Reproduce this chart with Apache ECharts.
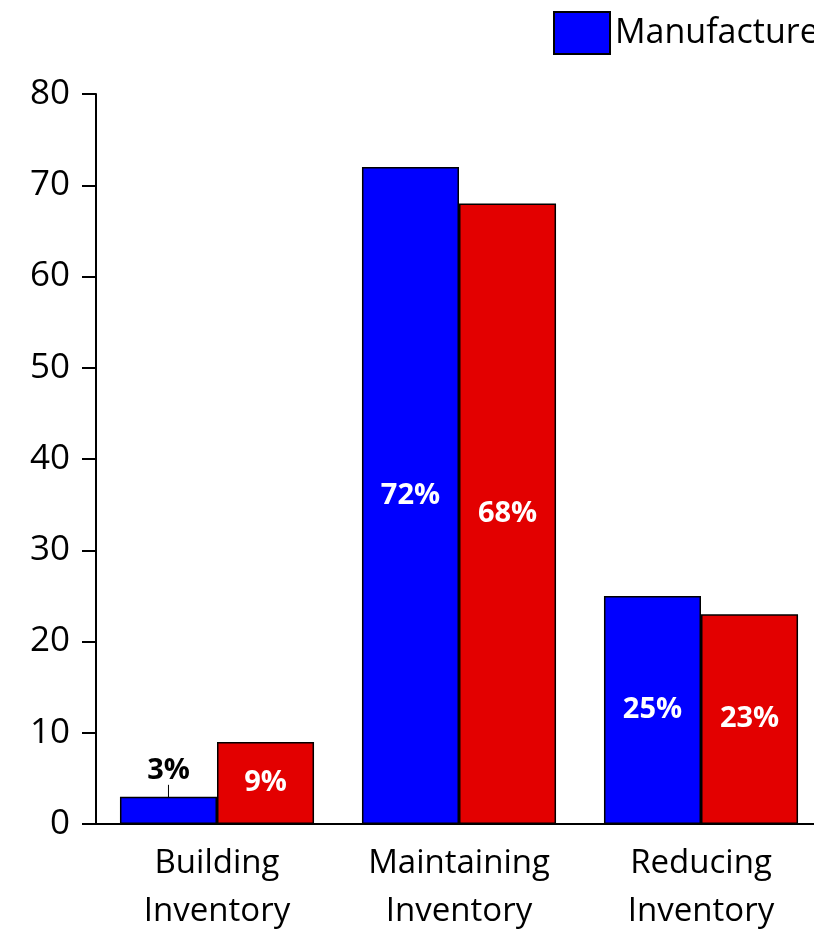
<!DOCTYPE html>
<html><head><meta charset="utf-8">
<script src="https://cdn.jsdelivr.net/npm/echarts@6/dist/echarts.min.js"></script>
<style>html,body{margin:0;padding:0;background:#fff}#c{width:814px;height:934px}</style>
</head><body><div id="c"></div>
<script>
const categories = ['Building\nInventory', 'Maintaining\nInventory', 'Reducing\nInventory'];
const seriesNames = ['Manufacturers', 'Retailers'];
const manufacturers = [3, 72, 25];
const retailers = [9, 68, 23];
const yTicks = {min: 0, max: 80, interval: 10};

const FONT = '"Open Sans", "Noto Sans", sans-serif';
const chart = echarts.init(document.getElementById('c'));
const labelStyle = {show: true, position: 'inside', color: '#fff', fontWeight: 'bold', fontSize: 29, fontFamily: FONT, formatter: p => p.value + '%'};
chart.setOption({
  animation: false,
  legend: {left: 548, top: 6, width: 2000, orient: 'horizontal', itemWidth: 56, itemHeight: 42, itemGap: 30,
    textStyle: {fontSize: 34, fontFamily: FONT, color: '#000'},
    icon: 'rect', data: seriesNames},
  grid: {left: 96, top: 94, width: 726, height: 730, outerBoundsMode: 'none', containLabel: false},
  xAxis: {type: 'category', data: categories,
    axisLine: {lineStyle: {color: '#000', width: 2}},
    axisTick: {show: false},
    axisLabel: {fontSize: 33, fontFamily: FONT, color: '#000', lineHeight: 48, margin: 16}},
  yAxis: {type: 'value', min: yTicks.min, max: yTicks.max, interval: yTicks.interval,
    axisLine: {show: true, lineStyle: {color: '#000', width: 2}},
    axisTick: {show: true, length: 14, lineStyle: {color: '#000', width: 2}},
    splitLine: {show: false},
    axisLabel: {fontSize: 35, fontFamily: FONT, color: '#000', margin: 26}},
  series: [
    {name: seriesNames[0], type: 'bar', barGap: '0%', barCategoryGap: '19.8%',
      itemStyle: {color: '#0000FF', borderColor: '#000', borderWidth: 1.5},
      label: labelStyle,
      labelLayout: p => p.dataIndex === 0 ? {dy: -40} : {},
      data: manufacturers.map((v, i) => i === 0 ? {value: v,
        label: {color: '#000'},
        labelLine: {show: true, lineStyle: {color: '#000', width: 1}}} : v)},
    {name: seriesNames[1], type: 'bar',
      itemStyle: {color: '#E30000', borderColor: '#000', borderWidth: 1.5},
      label: labelStyle,
      data: retailers}
  ]
});
</script></body></html>
